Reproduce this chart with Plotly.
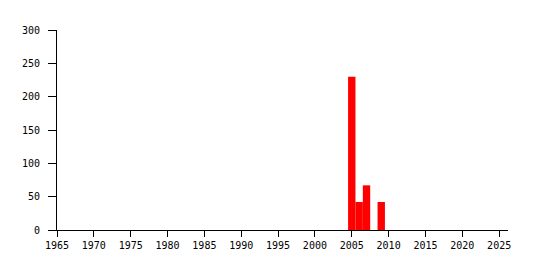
import plotly.graph_objects as go

years = [2005, 2006, 2007, 2009]
counts = [230, 42, 67, 42]
x_ticks = list(range(1965, 2030, 5))
y_ticks = [0, 50, 100, 150, 200, 250, 300]

fig = go.Figure(go.Bar(x=years, y=counts, width=1.0, marker=dict(color="#ff0000", line=dict(width=0))))

fig.update_layout(
    width=535, height=270,
    margin=dict(l=57, r=27, t=30, b=40),
    plot_bgcolor="white", paper_bgcolor="white",
    showlegend=False,
    font=dict(family="DejaVu Sans Mono", size=10, color="black"),
)
fig.update_xaxes(
    range=[1965, 2026.2], tickvals=x_ticks, ticktext=[str(t) for t in x_ticks],
    showgrid=False, zeroline=False, showline=True, linecolor="black", linewidth=1,
    ticks="outside", ticklen=6, tickcolor="black", tickwidth=1,
)
fig.update_yaxes(
    range=[0, 300], tickvals=y_ticks,
    showgrid=False, zeroline=False, showline=True, linecolor="black", linewidth=1,
    ticks="outside", ticklen=8, tickcolor="black", tickwidth=1, ticklabelstandoff=6,
)

fig.write_html("out.html")
